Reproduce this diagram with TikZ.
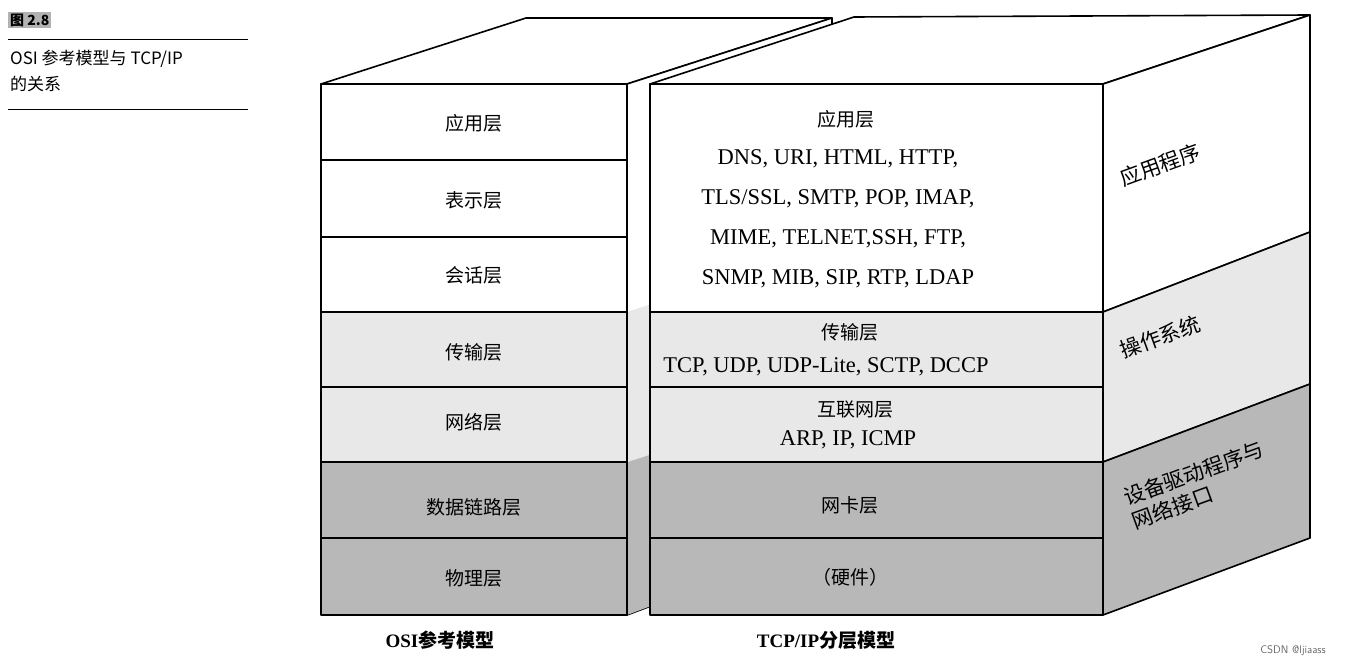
\documentclass[tikz,border=0pt]{standalone}
\usepackage{fontspec}
\setmainfont{Liberation Serif}
\newfontfamily\cjk{Noto Sans CJK SC}
\colorlet{cw}{white}
\colorlet{cl}{black!9}
\colorlet{cd}{black!28}
\begin{document}
\begin{tikzpicture}[x=1pt,y=-1pt,
  edge/.style={draw=black,line width=1.6pt,line join=round},
  lbl/.style={font=\cjk\fontsize{19}{22}\selectfont},
  rlbl/.style={font=\cjk\fontsize{21}{25}\selectfont,rotate=20},
  lat/.style={font=\fontsize{22.5}{40}\selectfont,align=center}]
\useasboundingbox (0,0) rectangle (1359,668);
% caption
\node[fill=black!30,inner sep=2pt,anchor=west,font=\cjk\bfseries\fontsize{14}{16}\selectfont] (fig) at (8,20) {图 2.8};
\draw[line width=1pt] (8,40) -- (248,40);
\node[anchor=north west,align=left,inner sep=0pt,font=\cjk\fontsize{17}{26}\selectfont] (cap) at (10,50) {OSI 参考模型与 TCP/IP\\的关系};
\draw[line width=1pt] (8,110) -- (248,110);
% OSI box
\draw[edge,fill=white] (321,84) -- (526,18) -- (832,18) -- (627,84) -- cycle;
\draw[edge,fill=white] (627,84) -- (832,18) -- (832,538) -- (627,615) -- cycle;
\fill[cd] (627,462) -- (832,396) -- (832,538) -- (627,615) -- cycle;
\fill[cl] (627,312) -- (832,246) -- (832,396) -- (627,462) -- cycle;
\foreach \a/\b/\s in {84/160/cw,160/237/cw,237/312/cw,312/387/cl,387/462/cl,462/538/cd,538/615/cd}{
  \draw[edge,fill=\s] (321,\a) rectangle (627,\b);}
\node[lbl] (o7) at (474,123) {应用层};
\node[lbl] (o6) at (474,200) {表示层};
\node[lbl] (o5) at (474,275) {会话层};
\node[lbl] (o4) at (474,352) {传输层};
\node[lbl] (o3) at (474,422) {网络层};
\node[lbl] (o2) at (474,507) {数据链路层};
\node[lbl] (o1) at (474,578) {物理层};
% TCP box
\draw[edge,fill=white] (650,84) -- (854,17) -- (1310,15) -- (1103,84) -- cycle;
\draw[edge,fill=cw] (1103,84) -- (1310,15) -- (1310,232) -- (1103,312) -- cycle;
\draw[edge,fill=cl] (1103,312) -- (1310,232) -- (1310,384) -- (1103,462) -- cycle;
\draw[edge,fill=cd] (1103,462) -- (1310,384) -- (1310,538) -- (1103,615) -- cycle;
\foreach \a/\b/\s in {84/312/cw,312/387/cl,387/462/cl,462/538/cd,538/615/cd}{
  \draw[edge,fill=\s] (650,\a) rectangle (1103,\b);}
\node[lbl] (t5) at (846,119) {应用层};
\node[lat] (t5p) at (838,219) {DNS, URI, HTML, HTTP,\\TLS/SSL, SMTP, POP, IMAP,\\MIME, TELNET,SSH, FTP,\\SNMP, MIB, SIP, RTP, LDAP};
\node[lbl] (t4) at (850,332) {传输层};
\node[lat] (t4p) at (826,367) {TCP, UDP, UDP-Lite, SCTP, DCCP};
\node[lbl] (t3) at (855,410) {互联网层};
\node[lat] (t3p) at (848,440) {ARP, IP, ICMP};
\node[lbl] (t2) at (850,505) {网卡层};
\node[lbl] (t1) at (850,577) {（硬件）};
\node[rlbl] (r1) at (1160,165) {应用程序};
\node[rlbl] (r2) at (1160,337) {操作系统};
\node[rlbl,align=left] (r3) at (1198,485) {设备驱动程序与\\网络接口};
% bottom labels
\node[font=\bfseries\fontsize{19}{22}\selectfont] (b1) at (440,640) {OSI{\cjk 参考模型}};
\node[font=\bfseries\fontsize{19}{22}\selectfont] (b2) at (826,640) {TCP/IP{\cjk 分层模型}};
\node[font=\sffamily\fontsize{11}{13}\selectfont,text=black!60] (wm) at (1293,651) {CSDN @ljiaass};
\end{tikzpicture}
\end{document}
